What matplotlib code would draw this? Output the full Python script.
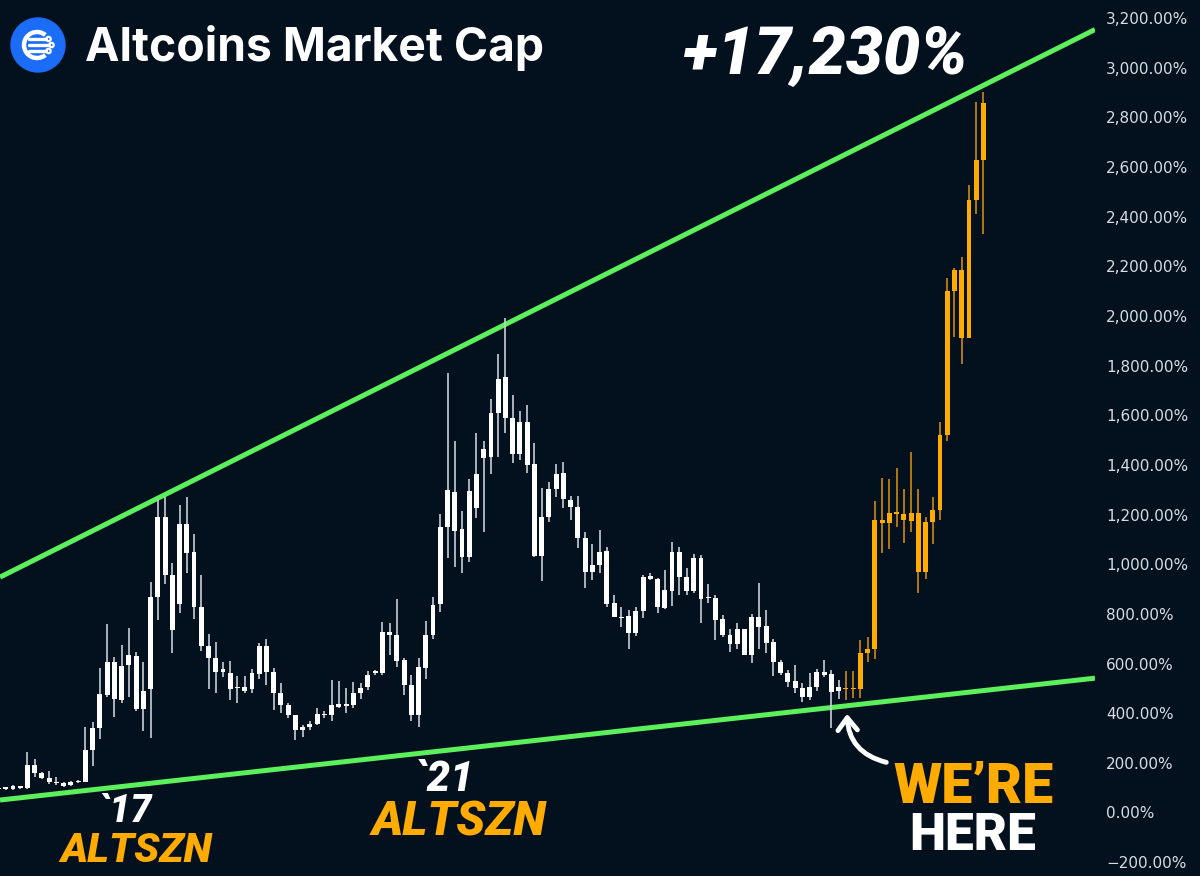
import matplotlib
matplotlib.use("Agg")
import matplotlib.pyplot as plt
from matplotlib.patches import Circle, Arc, FancyArrowPatch

# ---------------- data (values in %) ----------------
hist_open = [94, 95, 96, 104, 98, 191, 159, 139, 120, 118, 110, 121, 122, 251, 340, 473, 606, 453, 594, 630,
             417, 497, 868, 1190, 956, 839, 1162, 1049, 827, 670, 622, 566, 562, 501, 505, 497, 557, 670, 566, 481,
             433, 392, 332, 344, 356, 392, 392, 437, 429, 433, 481, 505, 562, 562, 727, 715, 614, 513, 392, 582,
             715, 839, 1149, 1290, 1141, 1029, 1226, 1428, 1432, 1609, 1754, 1589, 1444, 1573, 1404, 1033, 1190, 1303, 1367, 1258,
             1230, 1105, 968, 996, 1053, 843, 787, 791, 722, 811, 952, 940, 823, 891, 1049, 948, 891, 1025, 863, 863,
             779, 714, 678, 738, 634, 787, 750, 686, 606, 562, 529, 501, 465, 505, 566, 557, 489]
hist_high = [98, 100, 110, 108, 243, 215, 163, 167, 143, 122, 126, 130, 344, 364, 582, 759, 626, 674, 743, 646,
             606, 928, 1258, 1270, 1005, 1238, 1270, 1121, 956, 719, 686, 606, 610, 549, 549, 578, 682, 698, 582, 521,
             440, 392, 352, 368, 421, 408, 533, 529, 501, 525, 521, 570, 574, 767, 763, 859, 622, 553, 622, 771,
             868, 1202, 1770, 1496, 1214, 1343, 1528, 1496, 1665, 1847, 1992, 1681, 1617, 1641, 1488, 1307, 1331, 1404, 1411, 1275,
             1275, 1129, 1081, 1137, 1069, 876, 827, 815, 827, 956, 964, 944, 976, 1089, 1069, 984, 1041, 1037, 920, 876,
             795, 738, 763, 738, 799, 924, 815, 698, 614, 574, 594, 521, 562, 578, 614, 574, 533]
hist_low = [90, 90, 90, 96, 96, 143, 135, 114, 110, 102, 106, 118, 122, 187, 296, 465, 384, 441, 465, 408,
            328, 300, 775, 920, 642, 803, 964, 779, 650, 497, 481, 545, 453, 441, 481, 481, 537, 513, 412, 401,
            380, 292, 304, 332, 352, 380, 368, 421, 401, 421, 457, 493, 553, 553, 634, 586, 473, 368, 344, 537,
            698, 807, 1025, 989, 965, 1009, 1186, 1129, 1363, 1432, 1528, 1407, 1420, 1367, 1029, 933, 1170, 1270, 1226, 1178,
            1065, 903, 936, 964, 827, 787, 746, 658, 710, 783, 936, 803, 819, 831, 876, 876, 883, 763, 843, 694,
            706, 646, 658, 634, 602, 658, 642, 549, 553, 505, 481, 445, 453, 489, 545, 340, 457]
hist_close = [95, 96, 106, 100, 191, 159, 139, 122, 117, 106, 122, 123, 251, 340, 477, 606, 457, 590, 634, 417,
              489, 868, 1190, 956, 735, 1162, 1045, 827, 670, 622, 566, 578, 497, 501, 489, 562, 670, 566, 481, 433,
              393, 332, 344, 356, 396, 392, 433, 425, 433, 481, 501, 553, 566, 727, 715, 610, 513, 392, 586, 715,
              836, 1149, 1299, 1133, 1029, 1295, 1363, 1464, 1609, 1746, 1589, 1444, 1573, 1400, 1033, 1190, 1303, 1363, 1262, 1230,
              1105, 968, 996, 1049, 839, 787, 783, 722, 811, 948, 940, 827, 895, 1049, 948, 891, 1025, 859, 863, 775,
              714, 678, 738, 634, 787, 746, 682, 606, 562, 525, 501, 465, 505, 566, 553, 485, 505]

proj_open = [497, 497, 497, 642, 658, 1178, 1166, 1202, 1202, 1174, 1206, 968, 1170, 1218, 1520, 2100, 2184, 1910, 2467, 2628]
proj_high = [570, 570, 694, 706, 1254, 1347, 1343, 1387, 1303, 1452, 1303, 1190, 1270, 1573, 2152, 2192, 2236, 2527, 2862, 2902]
proj_low = [453, 461, 461, 606, 618, 1045, 1061, 1149, 1085, 1129, 883, 940, 1081, 1178, 1496, 1914, 1805, 1910, 2411, 2330]
proj_close = [499, 499, 642, 658, 1178, 1166, 1206, 1210, 1178, 1206, 968, 1170, 1218, 1520, 2100, 2184, 1910, 2467, 2628, 2858]

upper_trend = [948, 3154]   # % at left and right edge
lower_trend = [50, 541]
y_ticks = [-200, 0, 200, 400, 600, 800, 1000, 1200, 1400, 1600, 1800, 2000,
           2200, 2400, 2600, 2800, 3000, 3200]

# ---------------- style ----------------
BG = '#03111f'
GREEN = '#5cf05c'
WHITE = '#ffffff'
WICK_W = '#c9ced6'
ORANGE = '#ffab00'
WICK_O = '#d08a10'

fig = plt.figure(figsize=(12, 8.76), dpi=100, facecolor=BG)
ax = fig.add_axes([0, 0, 1095 / 1200, 1], facecolor=BG)
XMIN, XMAX = 1.21, 152.4
ax.set_xlim(XMIN, XMAX)
ax.set_ylim(-256, 3273)


def candles(xs, o, h, l, c, body_col, wick_col):
    ax.vlines(xs, l, h, color=wick_col, linewidth=1.2, zorder=3)
    bottoms = [min(a, b) for a, b in zip(o, c)]
    heights = [max(abs(b - a), 6) for a, b in zip(o, c)]
    ax.bar(xs, heights, bottom=bottoms, width=0.68, color=body_col,
           edgecolor='none', zorder=4)


hx = list(range(1, len(hist_open) + 1))
px = list(range(len(hist_open) + 1, len(hist_open) + 1 + len(proj_open)))
candles(hx, hist_open, hist_high, hist_low, hist_close, WHITE, WICK_W)
candles(px, proj_open, proj_high, proj_low, proj_close, ORANGE, WICK_O)

ax.plot([XMIN, XMAX], upper_trend, color=GREEN, linewidth=3.6, zorder=2,
        solid_capstyle='butt')
ax.plot([XMIN, XMAX], lower_trend, color=GREEN, linewidth=3.6, zorder=2,
        solid_capstyle='butt')

ax.set_xticks([])
ax.yaxis.tick_right()
ax.set_yticks(y_ticks)
ax.set_yticklabels([f"{v:,.2f}%".replace('-', '\u2212') for v in y_ticks])
ax.tick_params(axis='y', length=0, pad=8, labelcolor='#d8dce2', labelsize=11)
for s in ax.spines.values():
    s.set_visible(False)

# ---------------- overlay (pixel coordinates) ----------------
ov = fig.add_axes([0, 0, 1, 1])
ov.set_xlim(0, 1200)
ov.set_ylim(876, 0)
ov.axis('off')
ov.patch.set_alpha(0)

# logo
ov.add_patch(Circle((38, 45), 27, color='#1b6cf6', zorder=5))
ov.add_patch(Arc((37, 45), 26, 26, theta1=50, theta2=310, color='white', lw=3.2, zorder=6))
for yy, ex in [(39, 46), (45, 49), (51, 46)]:
    ov.plot([29, ex], [yy, yy], color='white', lw=2.4, zorder=6, solid_capstyle='round')
    ov.add_patch(Circle((ex + 2.5, yy), 2.2, facecolor='none', edgecolor='white', lw=1.6, zorder=6))

ov.text(85, 61, 'Altcoins Market Cap', color='white', fontsize=33.3, fontweight='bold',
        family=['Inter', 'DejaVu Sans'], ha='left', va='baseline')
ov.text(683, 73, '+17,230%', color='white', fontsize=47.5, fontweight='black', style='italic',
        family=['Roboto', 'DejaVu Sans'], ha='left', va='baseline')

ital = dict(fontweight='black', style='italic', family=['Roboto', 'DejaVu Sans'],
            ha='left', va='baseline')
ov.text(97, 822, '`17', color='white', fontsize=27, **ital)
ov.text(60, 862, 'ALTSZN', color=ORANGE, fontsize=29.7, **ital)
ov.text(414, 791, '`21', color='white', fontsize=30, **ital)
ov.text(372, 836, 'ALTSZN', color=ORANGE, fontsize=34.2, **ital)

bold = dict(fontweight='black', family=['Roboto', 'DejaVu Sans'], ha='left', va='baseline')
ov.text(893, 803, 'WE\u2019RE', color=ORANGE, fontsize=40, **bold)
ov.text(909, 850, 'HERE', color='white', fontsize=37, **bold)

arrow = FancyArrowPatch(posA=(889, 763), posB=(847, 711),
                        connectionstyle='arc3,rad=-0.4',
                        arrowstyle='->,head_length=9,head_width=7',
                        color='white', lw=3.5, zorder=6)
ov.add_patch(arrow)

fig.savefig('out.png', dpi=100, facecolor=BG)
